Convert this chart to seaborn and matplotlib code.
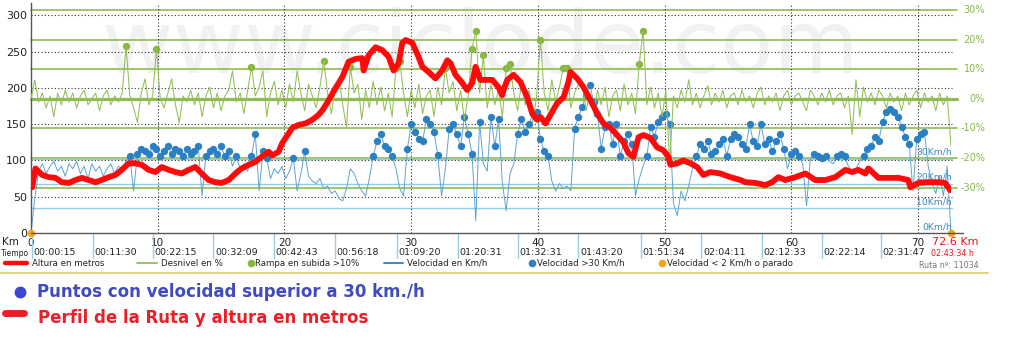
import numpy as np
import pandas as pd
import matplotlib
matplotlib.use("Agg")
import matplotlib.pyplot as plt
import matplotlib.transforms as mtrans
from matplotlib.lines import Line2D
import seaborn as sns

# ---------------- data ----------------
TOTAL_KM = 72.6

alt_km = [0.09, 0.35, 0.88, 1.40, 1.93, 2.43, 2.98, 3.51, 4.01, 4.56,
          5.09, 5.58, 6.13, 6.66, 7.16, 7.71, 8.24, 8.74, 9.29, 9.82,
          10.32, 10.87, 11.40, 11.89, 12.44, 12.97, 13.47, 14.02, 14.55, 15.05,
          15.60, 16.13, 16.62, 17.18, 17.70, 18.20, 18.75, 19.05, 19.54, 19.83,
          20.62, 21.12, 21.67, 22.20, 22.70, 22.99, 23.49, 24.04, 24.57, 25.06,
          25.62, 26.14, 26.25, 26.64, 27.19, 27.72, 28.22, 28.61, 29.01, 29.30,
          29.56, 30.09, 30.58, 30.88, 31.37, 31.92, 32.45, 32.85, 33.11, 33.50,
          34.03, 34.42, 34.82, 35.08, 35.47, 36.00, 36.40, 36.89, 37.18, 37.29,
          37.58, 38.08, 38.63, 39.16, 39.55, 39.94, 40.20, 40.60, 40.99, 41.52,
          42.02, 42.41, 42.57, 43.10, 43.60, 44.15, 44.68, 45.17, 45.73, 46.25,
          46.75, 47.14, 47.54, 47.94, 48.33, 48.88, 49.41, 49.91, 50.30, 50.46,
          50.99, 51.48, 52.04, 52.56, 53.06, 53.61, 54.40, 55.19, 55.98, 56.37,
          57.16, 57.95, 58.48, 58.98, 59.53, 60.32, 61.11, 61.89, 62.68, 63.47,
          64.26, 64.79, 65.29, 65.84, 66.08, 66.63, 66.86, 67.65, 68.44, 69.23,
          69.39, 70.02, 70.81, 71.59, 72.14, 72.53]
alt_m = [63, 89, 80, 77, 76, 70, 69, 73, 76, 73,
         70, 73, 77, 80, 87, 96, 96, 94, 87, 84,
         91, 87, 84, 82, 87, 91, 82, 73, 70, 69,
         73, 82, 89, 94, 98, 105, 112, 107, 112, 124,
         145, 149, 151, 156, 163, 169, 183, 200, 215, 236,
         240, 241, 224, 245, 256, 252, 243, 224, 234, 262,
         266, 262, 243, 229, 222, 213, 224, 238, 234, 218,
         207, 197, 207, 229, 211, 211, 211, 201, 190, 197,
         211, 218, 208, 187, 165, 156, 160, 151, 163, 179,
         187, 208, 222, 213, 201, 183, 165, 151, 145, 135,
         125, 110, 105, 132, 135, 131, 118, 114, 105, 94,
         96, 100, 96, 91, 80, 84, 82, 77, 73, 70,
         69, 66, 70, 77, 73, 77, 82, 73, 73, 77,
         87, 84, 87, 82, 89, 80, 76, 76, 76, 73,
         63, 69, 70, 70, 69, 59]

# speed (km/h), sampled every ~0.3 km along the route
speed_kmh = [0, 14, 25, 28, 24, 27, 29, 25,
             27, 23, 28, 26, 29, 24, 27, 22, 28, 25, 27, 23, 26, 28, 24, 27, 26,
             29, 31, 17, 32,
             34, 33, 32, 35, 34, 31, 33, 35, 32, 34, 33, 31, 34, 32, 33, 35,
             15,
             31, 33, 34, 32, 35, 31, 33, 27, 31, 26, 28, 25,
             31, 40, 17, 33,
             30.5, 22, 26,
             24, 27, 22, 25,
             30.5, 17, 24, 33,
             23, 21, 20, 22, 18, 19, 16, 17, 14, 13, 18, 26, 24, 20, 17, 15, 22,
             31, 37, 40, 35, 34, 31,
             26, 18, 15, 34,
             44, 41, 38, 37, 46, 44, 41, 31.5, 15, 26,
             42, 44, 40, 35, 47, 40,
             32, 5, 45,
             28, 25, 47, 35, 46, 20, 9, 24,
             28, 40, 46, 41, 44, 48, 49, 38, 33, 31,
             21, 17, 20, 18, 19, 17,
             42, 47, 51, 56, 60, 53, 48,
             34, 43, 44, 36, 44, 31,
             37, 40, 36, 15, 22,
             27, 31, 43, 39, 45, 47, 48, 44,
             12, 7, 17, 13, 19,
             26, 31, 36, 34, 37, 32, 33, 36, 38, 31, 38, 40, 39,
             36, 34, 44, 37, 35, 44, 36, 38, 33, 37, 40, 34, 26, 32, 33, 31, 28, 11, 30,
             32, 31, 30.5, 31, 29,
             28, 31, 32, 31,
             27, 25,
             26, 29, 31, 34, 35, 39, 37,
             45, 49, 50, 49, 47, 43,
             39, 36, 17,
             38, 40, 41,
             27, 20, 16, 23, 15, 27, 0]

# gradient (%), sampled every ~0.3 km along the route
grade_pct = [0, 6.4, -1, 2, -3, 1, -6, 2, -2, 3,
             -1, 2, -3, 1, 3, -2, 0, 2, -4, 1,
             3, -2, 1, -1, 2, 18.0, 1, -3, -8, 2,
             6.8, -2, 1, 16.9, 0, -3, 2, 6.8, -2, -8,
             1, -1, 3, -2, 2, -6, 1, 4, -3, 2,
             -4, 1, 3, 9.5, -1, 2, -5, 3, 10.9, 1,
             4, 9.5, -6, 2, 6, -2, 3, -3, 5, -1,
             9.5, 2, -4, 5, 1, -3, 4, 12.9, 2, -5,
             3, 7, -2, -9.5, 10.9, 2, 5, -7, 3, -3,
             6, -2, 4, -4, 2, -6, 10.5, 12.9, 2, -6,
             3, -3, 5, -5, 1, 3, -6, 4, -2, 10.5,
             2, 6, -4, 3, -7, 1, 16.9, 23.1, 2, 14.9,
             -3, 5, -2, 3, -6, 10.5, 11.9, 2, -4, 5,
             -2, 3, -8, 1, 20.0, 2, -4, 6.5, -1, 4,
             10.5, 10.5, -3, 2, 5, 6, -4, 2, -5, 3,
             -2, 4, -6, 1, 3, -4, 5, -2, 2, -5,
             11.9, 23.1, -2, 4, -3, 2, -6, 3, -22, 1,
             -3, 3, -1, 6.5, -2, 2, -3, 1, 4.5, -2,
             2, -1, 3, -3, 1, 2, -2, 3, -1, 1,
             -3, 2, 4, -2, 1, -1, 2, -4, 1, 3,
             -2, 1, 2, -1, -4, 3, 1, -2, 2, -1,
             3, -2, 1, 2, -3, 1, -12, 6.5, -6, 4,
             -1, 2, -2, 3, 1, -3, 2, -1, 1, -4,
             2, -2, 1, 3, -3, 2, -1, 1, -4, 2,
             -2, 1, -16]

km_ticks = [0, 10, 20, 30, 40, 50, 60, 70]
alt_ticks = [0, 50, 100, 150, 200, 250, 300]
pct_ticks = [30, 20, 10, 0, -10, -20, -30]
speed_ticks = [0, 10, 20, 30]
time_km = [0.1, 4.9, 9.6, 14.4, 19.2, 24.0, 28.9, 33.7, 38.4, 43.2,
           48.1, 52.9, 57.7, 62.4, 67.1]
time_labels = ["00:00:15", "00:11:30", "00:22:15", "00:32:09", "00:42:43",
               "00:56:18", "01:09:20", "01:20:31", "01:32:31", "01:43:20",
               "01:51:34", "02:04:11", "02:12:33", "02:22:14", "02:31:47"]

# ---------------- frames ----------------
speed_df = pd.DataFrame({"km": np.linspace(0, TOTAL_KM, len(speed_kmh)),
                         "speed": speed_kmh})
grade_df = pd.DataFrame({"km": np.linspace(0, TOTAL_KM, len(grade_pct)),
                         "grade": grade_pct})
alt_df = pd.DataFrame({"km": alt_km, "alt": alt_m})

# ---------------- styling ----------------
sns.set_theme(style="white")
plt.rcParams['font.family'] = ['DejaVu Sans']

C_RED = "#ff0a0a"
C_GREEN = "#93bf55"
C_GREEN_REF = "#8fbb50"
C_BLUE_LINE = "#5fa3d3"
C_BLUE_DOT = "#2a80c2"
C_BLUE_REF = "#92cdea"
C_ORANGE = "#f5a31c"

W, H = 1009, 345
L, R, B, T = 31, 951, 233, 3
fig = plt.figure(figsize=(W / 100, H / 100), dpi=100)
ax_s = fig.add_axes([L / W, (H - B) / H, (R - L) / W, (B - T) / H])
ax_g = ax_s.twinx()
ax_a = ax_s.twinx()
ax_s.set_zorder(1)
ax_g.set_zorder(2)
ax_a.set_zorder(3)
ax_s.patch.set_facecolor("white")
for a in (ax_g, ax_a):
    a.patch.set_visible(False)

ax_s.set_xlim(0, TOTAL_KM)
ax_s.set_ylim(0, 93)
ax_g.set_ylim(-45.4, 32.5)
ax_a.set_ylim(0, 317)

# watermark
ax_s.text(480 / W, 1 - 73 / H, "www.ciclode.com", transform=fig.transFigure,
          ha="center", va="baseline", fontsize=63, color="#f1f1f1", zorder=0,
          clip_on=False)

# reference lines
tr_g = mtrans.blended_transform_factory(ax_s.transAxes, ax_g.transData)
tr_a = mtrans.blended_transform_factory(ax_s.transAxes, ax_a.transData)
tr_s = ax_s.get_yaxis_transform()
tr_x = ax_s.get_xaxis_transform()

for p in pct_ticks:
    ax_s.plot([0, 1.0065], [p, p], transform=tr_g, color=C_GREEN_REF,
              lw=2.3 if p == 0 else 1.2, clip_on=False, zorder=1)
for v in speed_ticks[1:]:
    ax_s.plot([0, 1.001], [v, v], transform=tr_s, color=C_BLUE_REF, lw=1.0,
              clip_on=False, zorder=1.1)
for a_ in alt_ticks[1:]:
    ax_s.plot([0, 1.001], [a_, a_], transform=tr_a, color="#333333", lw=0.8,
              ls=(0, (1, 2)), clip_on=False, zorder=1.2)
for k in km_ticks[1:]:
    ax_s.plot([k, k], [0, 1], transform=tr_x, color="#333333", lw=0.8,
              ls=(0, (1, 2)), zorder=1.2)

# speed line + dots
sns.lineplot(data=speed_df, x="km", y="speed", ax=ax_s, color=C_BLUE_LINE,
             lw=0.7, estimator=None, sort=False, zorder=2)
sns.scatterplot(data=speed_df[speed_df.speed > 30], x="km", y="speed", ax=ax_s,
                color=C_BLUE_DOT, s=28, linewidth=0, zorder=3)
sns.scatterplot(data=speed_df[speed_df.speed < 2], x="km", y="speed", ax=ax_s,
                color=C_ORANGE, s=30, linewidth=0, zorder=4, clip_on=False)

# gradient line + ramp dots
sns.lineplot(data=grade_df, x="km", y="grade", ax=ax_g, color=C_GREEN,
             lw=0.75, estimator=None, sort=False)
sns.scatterplot(data=grade_df[grade_df.grade >= 10], x="km", y="grade", ax=ax_g,
                color="#86b83c", s=28, linewidth=0)

# altitude profile
sns.lineplot(data=alt_df, x="km", y="alt", ax=ax_a, color=C_RED, lw=4.2,
             estimator=None, sort=False, solid_joinstyle="round",
             solid_capstyle="round")

for a in (ax_s, ax_g, ax_a):
    a.set_xlabel("")
    a.set_ylabel("")
    for sp in a.spines.values():
        sp.set_visible(False)
ax_s.set_xlim(0, TOTAL_KM)
ax_s.set_ylim(0, 93)
ax_g.set_ylim(-45.4, 32.5)
ax_a.set_ylim(0, 317)

ax_s.spines["left"].set_visible(True)
ax_s.spines["left"].set_color("#555555")
ax_s.spines["left"].set_linewidth(1.0)
ax_s.plot([0, 1.013], [0, 0], transform=ax_s.transAxes, color="#555555",
          lw=1.0, clip_on=False, zorder=5)

# ticks
ax_s.set_yticks([])
ax_g.set_yticks([])
ax_s.set_xticks(km_ticks, labels=[str(k) for k in km_ticks])
ax_s.tick_params(axis="x", length=0, pad=3.5, labelsize=7.5, colors="#222222")
ax_a.yaxis.set_ticks_position("left")
ax_a.set_yticks(alt_ticks, labels=[str(v) for v in alt_ticks])
ax_a.tick_params(axis="y", length=0, pad=3, labelsize=8, colors="#222222",
                 labelleft=True, labelright=False)

# right-hand labels
for p in pct_ticks:
    ax_s.text(1.037, p, f"{p}%", transform=tr_g, ha="right", va="center",
              fontsize=7, color="#8ab84a", clip_on=False)
for v in speed_ticks:
    ax_s.text(1.001, v + 0.8, f"{v}Km/h", transform=tr_s, ha="right",
              va="bottom", fontsize=6.7, color="#3a8cc0", clip_on=False,
              zorder=6)

# time ticks
for k, lab in zip(time_km, time_labels):
    ax_s.plot([k, k], [0, -25 / 230], transform=tr_x, color="#9ccbe6", lw=1,
              clip_on=False)
    ax_s.text(k + 0.12, -19.5 / 230, lab, transform=tr_x, ha="left",
              va="center", fontsize=6.8, color="#222222", clip_on=False)

# figure texts
fig.text(2 / W, 1 - 242 / H, "Km", ha="left", va="center", fontsize=7.5,
         color="#222222")
fig.text(1 / W, 1 - 254 / H, "Tiempo", ha="left", va="center", fontsize=5.5,
         color="#222222")
fig.text(932 / W, 1 - 242 / H, "72.6 Km", ha="left", va="center", fontsize=8,
         color="#e8141c")
fig.text(931 / W, 1 - 253.5 / H, "02:43:34 h", ha="left", va="center",
         fontsize=5.8, color="#e8141c")
fig.text(919 / W, 1 - 265 / H, "Ruta nº: 11034", ha="left", va="center",
         fontsize=5.8, color="#777777")

# legend row
ly = 1 - 263 / H
fs = 6.2
fig.add_artist(Line2D([5 / W, 27 / W], [ly, ly], color=C_RED, lw=3.2))
fig.text(32 / W, ly, "Altura en metros", ha="left", va="center", fontsize=fs,
         color="#222222")
fig.add_artist(Line2D([137 / W, 157 / W], [ly, ly], color=C_GREEN, lw=1.3))
fig.text(161 / W, ly, "Desnivel en %", ha="left", va="center", fontsize=fs,
         color="#222222")
fig.add_artist(Line2D([251 / W], [ly], marker="o", ms=4.5, color="#86b83c",
                      lw=0))
fig.text(255 / W, ly, "Rampa en subida >10%", ha="left", va="center",
         fontsize=fs, color="#222222")
fig.add_artist(Line2D([384 / W, 403 / W], [ly, ly], color=C_BLUE_DOT, lw=1.3))
fig.text(407 / W, ly, "Velocidad en Km/h", ha="left", va="center", fontsize=fs,
         color="#222222")
fig.add_artist(Line2D([532 / W], [ly], marker="o", ms=4.5, color=C_BLUE_DOT,
                      lw=0))
fig.text(537 / W, ly, "Velocidad >30 Km/h", ha="left", va="center",
         fontsize=fs, color="#222222")
fig.add_artist(Line2D([662 / W], [ly], marker="o", ms=4.5, color=C_ORANGE,
                      lw=0))
fig.text(667 / W, ly, "Velocidad < 2 Km/h o parado", ha="left", va="center",
         fontsize=fs, color="#222222")

# gold separator
fig.add_artist(Line2D([0, 988 / W], [1 - 273 / H, 1 - 273 / H],
                      color="#e2cc7a", lw=1.3))

# bottom notes
fig.add_artist(Line2D([20 / W], [1 - 292 / H], marker="o", ms=7.5,
                      color="#3d46d0", lw=0))
fig.text(37 / W, 1 - 292 / H, "Puntos con velocidad superior a 30 km./h",
         ha="left", va="center", fontsize=12, fontweight="bold",
         color="#3f4bbf")
fig.add_artist(Line2D([5 / W, 24 / W], [1 - 313 / H, 1 - 313 / H],
                      color="#ee1c25", lw=5, solid_capstyle="round"))
fig.text(38 / W, 1 - 318 / H, "Perfil de la Ruta y altura en metros",
         ha="left", va="center", fontsize=12, fontweight="bold",
         color="#e8202a")

fig.savefig("out.png", dpi=100)
